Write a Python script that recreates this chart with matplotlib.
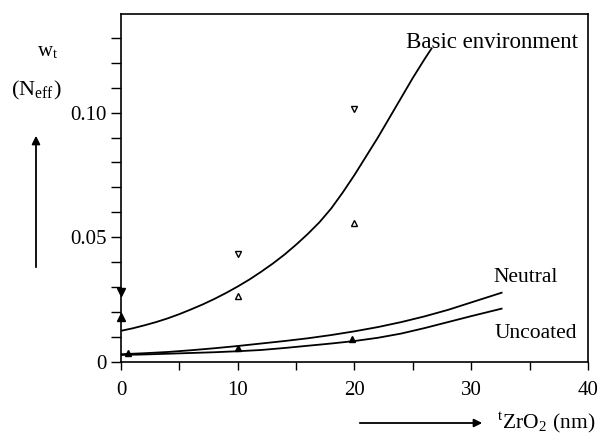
import matplotlib
matplotlib.use("Agg")
import matplotlib.pyplot as plt
from matplotlib.patches import FancyArrowPatch
from matplotlib.ticker import MultipleLocator, FixedLocator

plt.rcParams['font.family'] = ['Liberation Serif', 'DejaVu Serif']
plt.rcParams['mathtext.fontset'] = 'stix'

# Fitted curves, read along their length
basic_x = [0, 1, 2, 3, 4, 5, 6, 7, 8, 9, 10, 11, 12, 13, 14, 15, 16, 17, 18,
           19, 20, 21, 22, 23, 24, 25, 26, 26.6]
basic_y = [0.0124, 0.0134, 0.0146, 0.0159, 0.0174, 0.0191, 0.0210, 0.0230,
           0.0252, 0.0276, 0.0302, 0.0330, 0.0361, 0.0394, 0.0430, 0.0470,
           0.0513, 0.0560, 0.0615, 0.0680, 0.0750, 0.0825, 0.0900, 0.0980,
           0.1060, 0.1140, 0.1215, 0.1258]

neutral_x = [0, 2, 4, 6, 8, 10, 12, 14, 16, 18, 20, 22, 24, 26, 28, 30, 32.6]
neutral_y = [0.0030, 0.0034, 0.0039, 0.0046, 0.0054, 0.0063, 0.0073, 0.0083,
             0.0094, 0.0107, 0.0122, 0.0139, 0.0159, 0.0182, 0.0208, 0.0238,
             0.0277]

uncoated_x = [0, 2, 4, 6, 8, 10, 12, 14, 16, 18, 20, 22, 24, 26, 28, 30, 32.6]
uncoated_y = [0.0027, 0.0029, 0.0032, 0.0035, 0.0038, 0.0042, 0.0047, 0.0055,
              0.0064, 0.0073, 0.0083, 0.0096, 0.0113, 0.0135, 0.0159, 0.0183,
              0.0213]

# Measured points
basic_down_x = [10.0, 20.0]
basic_down_y = [0.0431, 0.1014]
basic_up_x = [10.0, 20.0]
basic_up_y = [0.0265, 0.0556]
zero_down = (0.0, 0.0278)
zero_up = (0.0, 0.0178)
low_x = [0.6, 10.0, 19.8]
low_y = [0.0036, 0.0057, 0.0092]

x_ticks = [0, 10, 20, 30, 40]
x_ticklabels = ['0', '10', '20', '30', '40']
y_ticks = [0, 0.05, 0.10]
y_ticklabels = ['0', '0.05', '0.10']

fig = plt.figure(figsize=(5.98, 4.34), dpi=100)
ax = fig.add_axes([0.2023, 0.1666, 0.7810, 0.8004])

lw = 1.3
ax.plot(basic_x, basic_y, color='black', lw=lw)
ax.plot(neutral_x, neutral_y, color='black', lw=lw)
ax.plot(uncoated_x, uncoated_y, color='black', lw=lw)

ax.plot(basic_down_x, basic_down_y, linestyle='none', marker='v', ms=5,
        mfc='white', mec='black', mew=1.0)
ax.plot(basic_up_x, basic_up_y, linestyle='none', marker='^', ms=5,
        mfc='white', mec='black', mew=1.0)
ax.plot([zero_down[0]], [zero_down[1]], linestyle='none', marker='v', ms=6,
        color='black', clip_on=False)
ax.plot([zero_up[0]], [zero_up[1]], linestyle='none', marker='^', ms=6,
        color='black', clip_on=False)
ax.plot(low_x, low_y, linestyle='none', marker='^', ms=4.5, color='black')

ax.set_xlim(0, 40)
ax.set_ylim(0, 0.1395)

ax.xaxis.set_major_locator(FixedLocator(x_ticks))
ax.xaxis.set_minor_locator(MultipleLocator(5))
ax.yaxis.set_major_locator(FixedLocator(y_ticks))
ax.yaxis.set_minor_locator(MultipleLocator(0.01))
ax.set_xticklabels(x_ticklabels)
ax.set_yticklabels(y_ticklabels)

ax.tick_params(axis='both', which='both', direction='out', width=1.0,
               labelsize=15, colors='black')
ax.tick_params(axis='x', which='both', length=6, pad=8)
ax.tick_params(axis='y', which='both', length=7, pad=3)

for sp in ax.spines.values():
    sp.set_linewidth(1.2)

ax.text(406, 434 - 42, 'Basic environment', fontsize=16.5, ha='left',
        va='center', transform=None)
ax.text(493, 434 - 277, 'Neutral', fontsize=15.5, ha='left', va='center',
        transform=None)
ax.text(495, 434 - 333, 'Uncoated', fontsize=15.5, ha='left', va='center',
        transform=None)

# Axis captions with arrows
fig.text(37 / 598, 1 - 52 / 434, r'w$_\mathregular{t}$', fontsize=15,
         ha='left', va='center')
fig.text(11 / 598, 1 - 90 / 434, r'(N$_\mathregular{eff}$)', fontsize=16,
         ha='left', va='center')
fig.patches.append(FancyArrowPatch(
    (36 / 598, 1 - 270 / 434), (36 / 598, 1 - 133 / 434),
    transform=fig.transFigure, arrowstyle='-|>', mutation_scale=12,
    color='black', lw=1.3))
fig.patches.append(FancyArrowPatch(
    (357 / 598, 1 - 423 / 434), (485 / 598, 1 - 423 / 434),
    transform=fig.transFigure, arrowstyle='-|>', mutation_scale=12,
    color='black', lw=1.3))
fig.text(497 / 598, 1 - 423 / 434, r'$^\mathregular{t}$ZrO$_\mathregular{2}$ (nm)',
         fontsize=15.5, ha='left', va='center')

fig.savefig('out.png', dpi=100)
